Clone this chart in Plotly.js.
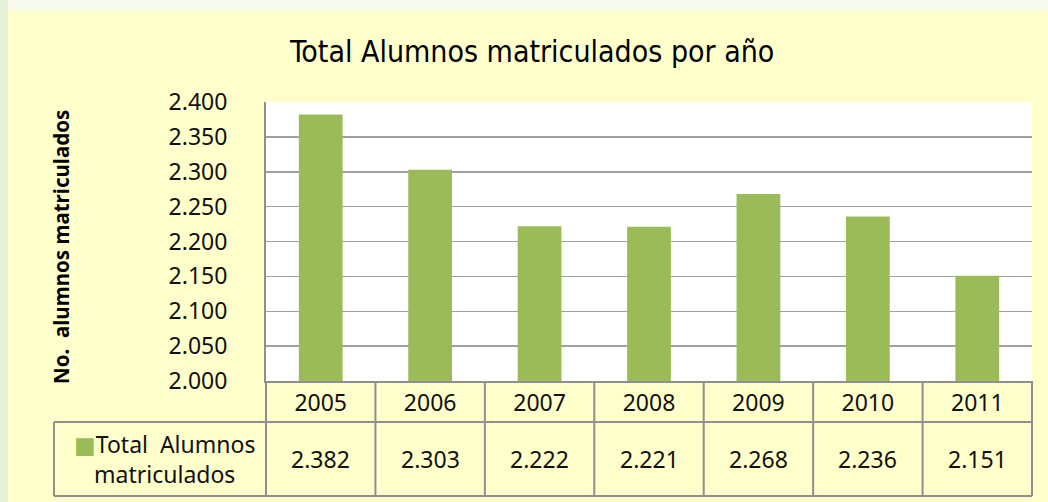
<!DOCTYPE html>
<html>
<head>
<meta charset="utf-8">
<script src="https://cdn.plot.ly/plotly-3.0.1.min.js"></script>
<style>
  html, body { margin: 0; padding: 0; width: 1048px; height: 502px; overflow: hidden;
    background: linear-gradient(90deg, #e4f1d8 0px, #e4f1d8 8px, #f6faef 8px, #f6faef 100%); }
  #chart { position: absolute; left: 8px; top: 10px; width: 1040px; height: 492px; }
</style>
</head>
<body>
<div id="chart"></div>
<script>
const years = ['2005', '2006', '2007', '2008', '2009', '2010', '2011'];
const values = [2382, 2303, 2222, 2221, 2268, 2236, 2151];
const seriesName = 'Total Alumnos matriculados';
const chartTitle = 'Total Alumnos matriculados por año';
const yTitle = 'No.\u00a0\u00a0alumnos matriculados\u00a0\u00a0';

const barColor = '#9BBB59';
const lineColor = '#8f8f8f';
const font = 'Noto Sans, DejaVu Sans, sans-serif';

function fmt(v) { return String(v).replace(/\B(?=(\d{3})+(?!\d))/g, '.'); }

const n = years.length;
const rowLine = -0.147, tableBottom = -0.412, leftCell = -0.2768, rowMid = -0.2796;

const shapes = [];
const lineStyle = {color: lineColor, width: 2};
shapes.push({type: 'line', xref: 'paper', yref: 'paper', x0: leftCell, x1: 1, y0: rowLine, y1: rowLine, line: lineStyle});
shapes.push({type: 'line', xref: 'paper', yref: 'paper', x0: leftCell, x1: 1, y0: tableBottom, y1: tableBottom, line: lineStyle});
shapes.push({type: 'line', xref: 'paper', yref: 'paper', x0: leftCell, x1: leftCell, y0: rowLine, y1: tableBottom, line: lineStyle});
for (let k = 0; k <= n; k++) {
  shapes.push({type: 'line', xref: 'paper', yref: 'paper', x0: k / n, x1: k / n, y0: 0, y1: tableBottom, line: lineStyle});
}

const annotations = years.map((yr, i) => ({
  xref: 'x', yref: 'paper', x: i, y: rowMid, xanchor: 'center', yanchor: 'middle',
  text: fmt(values[i]), showarrow: false, font: {family: font, size: 23, color: '#111'}
}));
annotations.push({
  xref: 'paper', yref: 'paper', x: -0.133, y: rowMid, xanchor: 'center', yanchor: 'middle',
  text: '<span style="color:' + barColor + '">■</span>Total\u00a0\u00a0Alumnos<br>matriculados',
  showarrow: false, align: 'center', font: {family: font, size: 23, color: '#111'}
});

const data = [{
  type: 'bar', x: years, y: values, name: seriesName,
  marker: {color: barColor, line: {width: 0}},
  hoverinfo: 'x+y'
}];

const layout = {
  width: 1040, height: 492,
  margin: {l: 258, r: 16, t: 92, b: 121},
  paper_bgcolor: '#FFFFCC', plot_bgcolor: '#FFFFFF',
  separators: ',.',
  showlegend: false,
  bargap: 0.6,
  title: {text: chartTitle, x: 0.504, xref: 'container', xanchor: 'center', y: 0.915, yanchor: 'middle',
    font: {family: 'DejaVu Sans Condensed, sans-serif', size: 30, color: '#000'}},
  xaxis: {type: 'category', range: [-0.5, n - 0.5], autorange: false, showgrid: false, ticks: '', showline: true, linecolor: lineColor, linewidth: 2,
    ticklabelstandoff: 0, tickfont: {family: font, size: 23, color: '#111'}, fixedrange: true},
  yaxis: {range: [2000, 2400], autorange: false, dtick: 50, tick0: 2000, tickformat: ',d', showgrid: true, gridcolor: '#a0a0a0', gridwidth: 1.5,
    showline: true, linecolor: lineColor, linewidth: 2, ticks: '', zeroline: false,
    ticklabelstandoff: 32, tickfont: {family: font, size: 23, color: '#111'},
    title: {text: '<b>' + yTitle + '</b>', standoff: 93, font: {family: font, size: 20.5, color: '#000'}}, fixedrange: true},
  shapes: shapes,
  annotations: annotations
};

Plotly.newPlot('chart', data, layout, {displayModeBar: false, staticPlot: true});
</script>
</body>
</html>
